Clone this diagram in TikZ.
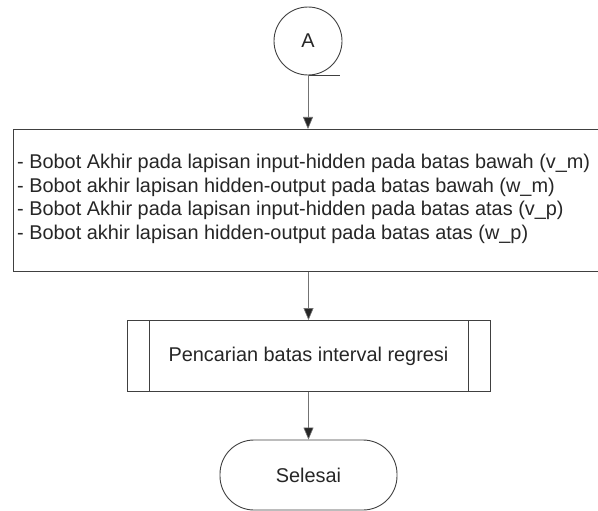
\documentclass[tikz,border=0pt]{standalone}
\usepackage{fontspec}
\setmainfont{Liberation Sans}
\usetikzlibrary{arrows.meta,positioning}
\begin{document}
\begin{tikzpicture}[x=1pt,y=-1pt,
  outline/.style={draw=black!75,line width=0.9pt},
  flow/.style={draw=black!55,line width=0.6pt,-{Triangle[length=12pt,width=10pt,fill=black!85]}},
  txt/.style={font=\fontsize{19.9}{23.6}\selectfont,text=black!85}]
\useasboundingbox (0,0) rectangle (598,511);
% storage symbol with connector label A
\node[outline,circle,minimum size=68pt,inner sep=0pt,txt] (A) at (308,41) {A};
\draw[outline] (A.south) -- ++(32,0);
% data block
\node[outline,rectangle,minimum width=590pt,minimum height=142pt,anchor=north west,inner sep=0pt] (data) at (13,129) {};
\node[txt,align=left,anchor=west,inner sep=0pt] (datatxt) at (17,199) {%
- Bobot Akhir pada lapisan input-hidden pada batas bawah (v\_m)\\
- Bobot akhir lapisan hidden-output pada batas bawah (w\_m)\\
- Bobot Akhir pada lapisan input-hidden pada batas atas (v\_p)\\
- Bobot akhir lapisan hidden-output pada batas atas (w\_p)};
% predefined process
\node[outline,rectangle,minimum width=363pt,minimum height=71pt,inner sep=0pt,txt] (proc) at (308.5,356) {Pencarian batas interval regresi};
\draw[outline] ([xshift=23pt]proc.north west) -- ([xshift=23pt]proc.south west);
\draw[outline] ([xshift=-22pt]proc.north east) -- ([xshift=-22pt]proc.south east);
% terminator
\node[outline,rectangle,rounded corners=34pt,minimum width=177pt,minimum height=70pt,inner sep=0pt,txt] (end) at (308.5,475) {Selesai};
% connectors
\draw[flow] (A.south) -- (A.south |- data.north);
\draw[flow] (proc.north |- data.south) -- (proc.north);
\draw[flow] (proc.south) -- (end.north);
\end{tikzpicture}
\end{document}
